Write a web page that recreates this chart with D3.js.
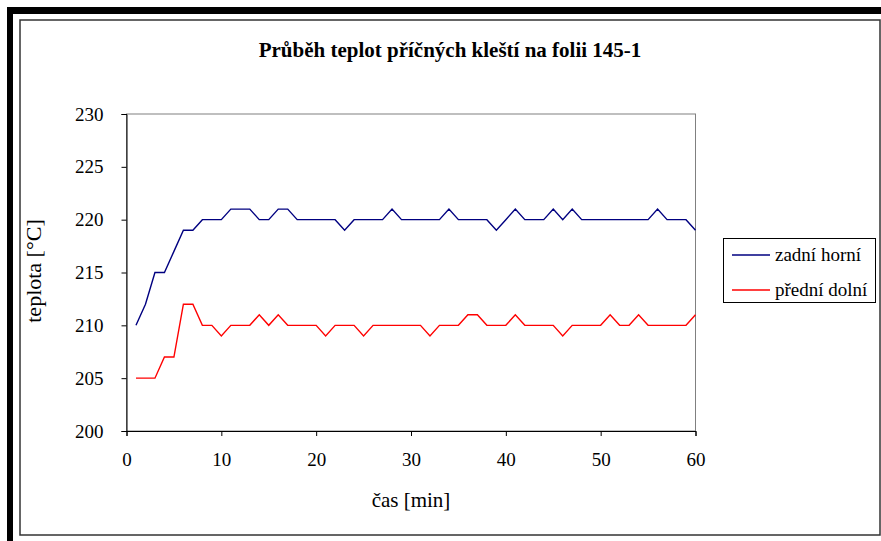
<!DOCTYPE html>
<html lang="cs">
<head>
<meta charset="UTF-8">
<title>Průběh teplot</title>
<script src="https://cdn.jsdelivr.net/npm/d3@7"></script>
<style>
  body { margin: 0; background: #fff; }
  svg text { font-family: 'Liberation Serif', 'Times New Roman', 'DejaVu Serif', serif; fill: #000; }
</style>
</head>
<body>
<script>
// minutes 1..60
const minutes = d3.range(1, 61);

const zadniHorni = [210, 212, 215, 215, 217, 219, 219, 220, 220, 220,
                    221, 221, 221, 220, 220, 221, 221, 220, 220, 220,
                    220, 220, 219, 220, 220, 220, 220, 221, 220, 220,
                    220, 220, 220, 221, 220, 220, 220, 220, 219, 220,
                    221, 220, 220, 220, 221, 220, 221, 220, 220, 220,
                    220, 220, 220, 220, 220, 221, 220, 220, 220, 219];

const predniDolni = [205, 205, 205, 207, 207, 212, 212, 210, 210, 209,
                     210, 210, 210, 211, 210, 211, 210, 210, 210, 210,
                     209, 210, 210, 210, 209, 210, 210, 210, 210, 210,
                     210, 209, 210, 210, 210, 211, 211, 210, 210, 210,
                     211, 210, 210, 210, 210, 209, 210, 210, 210, 210,
                     211, 210, 210, 211, 210, 210, 210, 210, 210, 211];

const xTicks = [0, 10, 20, 30, 40, 50, 60];
const yTicks = [200, 205, 210, 215, 220, 225, 230];

const seriesNames = ["zadní horní", "přední dolní"];
const seriesColors = ["#000080", "#ff0000"];

const width = 881, height = 541;
const serif = "'Liberation Serif', 'Times New Roman', 'DejaVu Serif', serif";

const svg = d3.select("body").append("svg")
    .attr("width", width)
    .attr("height", height)
    .attr("font-family", serif);

// outer frame: thick black band top + left, thin inner border
svg.append("rect").attr("x", 7).attr("y", 7).attr("width", 874).attr("height", 7).attr("fill", "#000");
svg.append("rect").attr("x", 7).attr("y", 7).attr("width", 6).attr("height", 534).attr("fill", "#000");
svg.append("rect")
    .attr("x", 20).attr("y", 20).attr("width", 860).attr("height", 515)
    .attr("fill", "none").attr("stroke", "#333").attr("stroke-width", 1.5);

const x = d3.scaleLinear().domain([0, 60]).range([126.5, 695.5]);
const y = d3.scaleLinear().domain([200, 230]).range([431, 114]);

// plot area border
svg.append("rect")
    .attr("x", x(0)).attr("y", y(230))
    .attr("width", x(60) - x(0)).attr("height", y(200) - y(230))
    .attr("fill", "none").attr("stroke", "#808080").attr("stroke-width", 1);

// axes
const yAxis = svg.append("g")
    .attr("transform", `translate(${x(0)},0)`)
    .call(d3.axisLeft(y).tickValues(yTicks).tickSize(5).tickPadding(18));
const xAxis = svg.append("g")
    .attr("transform", `translate(0,${y(200)})`)
    .call(d3.axisBottom(x).tickValues(xTicks).tickSize(5).tickPadding(17));

[yAxis, xAxis].forEach(g => {
  g.attr("font-family", serif).attr("font-size", 19);
  g.select(".domain").attr("stroke", "#000");
  g.selectAll(".tick line").attr("stroke", "#000");
  g.selectAll("text").attr("fill", "#000");
});

// lines
const line = d3.line().x((d, i) => x(minutes[i])).y(d => y(d));
[zadniHorni, predniDolni].forEach((vals, k) => {
  svg.append("path")
      .datum(vals)
      .attr("fill", "none")
      .attr("stroke", seriesColors[k])
      .attr("stroke-width", 1.4)
      .attr("d", line);
});

// title
svg.append("text")
    .attr("x", 450).attr("y", 57)
    .attr("text-anchor", "middle")
    .attr("font-size", 21)
    .attr("font-weight", "bold")
    .text("Průběh teplot příčných kleští na folii 145-1");

// axis titles
svg.append("text")
    .attr("x", 411).attr("y", 507)
    .attr("text-anchor", "middle")
    .attr("font-size", 21)
    .text("čas [min]");

svg.append("text")
    .attr("transform", "translate(41,271) rotate(-90)")
    .attr("text-anchor", "middle")
    .attr("font-size", 22)
    .text("teplota [°C]");

// legend
const legend = svg.append("g");
legend.append("rect")
    .attr("x", 723.5).attr("y", 238.5).attr("width", 152).attr("height", 64)
    .attr("fill", "#fff").attr("stroke", "#000").attr("stroke-width", 1);
seriesNames.forEach((name, k) => {
  const ly = 255 + k * 35;
  legend.append("line")
      .attr("x1", 732).attr("x2", 770).attr("y1", ly).attr("y2", ly)
      .attr("stroke", seriesColors[k]).attr("stroke-width", 1.4);
  legend.append("text")
      .attr("x", 775).attr("y", ly + 6)
      .attr("font-size", 19)
      .text(name);
});
</script>
</body>
</html>
